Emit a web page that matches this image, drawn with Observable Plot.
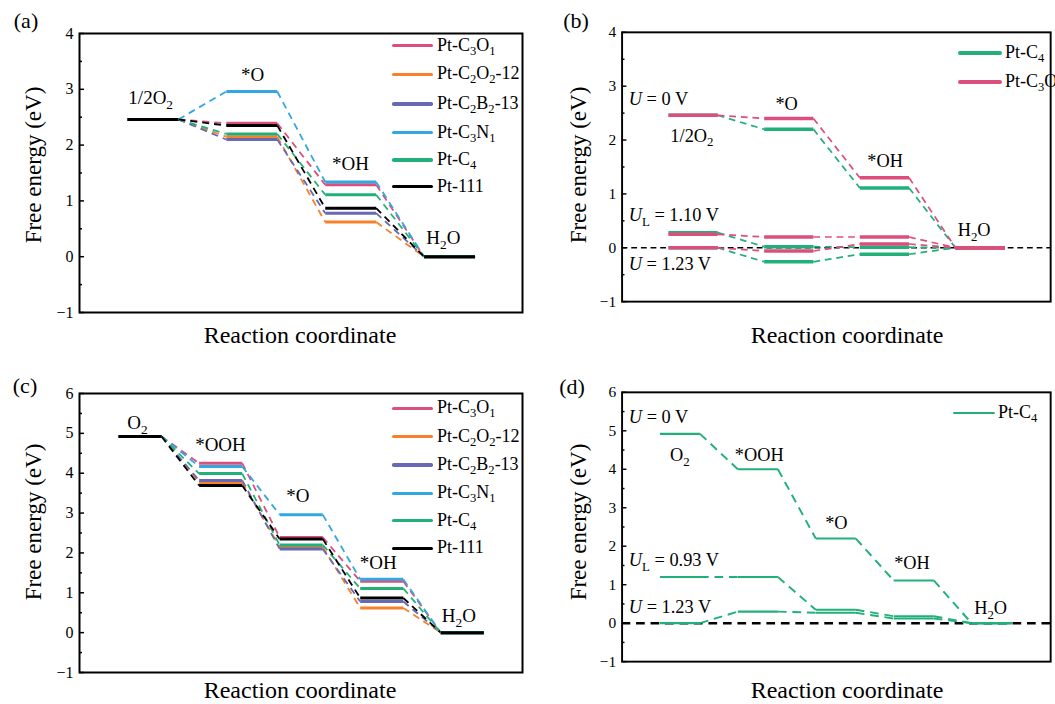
<!DOCTYPE html>
<html><head><meta charset="utf-8">
<script src="https://cdn.jsdelivr.net/npm/d3@7"></script>
<script src="https://cdn.jsdelivr.net/npm/@observablehq/plot@0.6"></script>
<style>
body{margin:0;background:#fff;}
#root{position:relative;width:1055px;height:704px;overflow:hidden;font-family:"Liberation Serif","Times New Roman",serif;color:#000;background:#fff;}
.abs{position:absolute;white-space:nowrap;line-height:1;}
.panel{position:absolute;}
.sub{font-size:70%;position:relative;top:4px;}
</style></head><body><div id="root"></div>
<script>
// ---------- data ----------
const seriesNames = ["Pt-C<sub>3</sub>O<sub>1</sub>", "Pt-C<sub>2</sub>O<sub>2</sub>-12", "Pt-C<sub>2</sub>B<sub>2</sub>-13", "Pt-C<sub>3</sub>N<sub>1</sub>", "Pt-C<sub>4</sub>", "Pt-111"];
const seriesColors = ["#db4f7c", "#f7812a", "#6669b4", "#33a7e0", "#22b07a", "#000000"];

// (a) 2e-path steps: 1/2O2, *O, *OH, H2O
const stepsA = ["1/2O<sub>2</sub>", "*O", "*OH", "H<sub>2</sub>O"];
const a_C3O1 = [2.46, 2.39, 1.29, 0];
const a_C2O2 = [2.46, 2.15, 0.62, 0];
const a_C2B2 = [2.46, 2.10, 0.78, 0];
const a_C3N1 = [2.46, 2.96, 1.34, 0];
const a_C4   = [2.46, 2.20, 1.11, 0];
const a_Pt111 = [2.46, 2.35, 0.87, 0];

// (b) Pt-C4 and Pt-C3O1 at U = 0, U_L, 1.23 V
const b_C4_U0   = [2.46, 2.20, 1.11, 0];
const b_C4_UL   = [0.28, 0.02, 0.01, 0];
const b_C4_U123 = [0, -0.26, -0.12, 0];
const b_C3O1_U0   = [2.46, 2.40, 1.30, 0];
const b_C3O1_UL   = [0.25, 0.20, 0.20, 0];
const b_C3O1_U123 = [0, -0.06, 0.07, 0];

// (c) 4e-path steps: O2, *OOH, *O, *OH, H2O
const stepsC = ["O<sub>2</sub>", "*OOH", "*O", "*OH", "H<sub>2</sub>O"];
const c_C3O1 = [4.92, 4.25, 2.39, 1.29, 0];
const c_C2O2 = [4.92, 3.77, 2.15, 0.62, 0];
const c_C2B2 = [4.92, 3.82, 2.10, 0.78, 0];
const c_C3N1 = [4.92, 4.17, 2.96, 1.34, 0];
const c_C4   = [4.92, 3.99, 2.20, 1.11, 0];
const c_Pt111 = [4.92, 3.69, 2.35, 0.87, 0];

// (d) Pt-C4 at U = 0, U_L = 0.93, 1.23 V
const d_C4_U0   = [4.92, 4.00, 2.20, 1.11, 0];
const d_C4_UL   = [1.20, 1.20, 0.35, 0.18, 0];
const d_C4_U123 = [0, 0.30, 0.27, 0.12, 0];

// annotation texts
const potB = ["<i>U</i> = 0 V", "<i>U</i><sub>L</sub> = 1.10 V", "<i>U</i> = 1.23 V"];
const potD = ["<i>U</i> = 0 V", "<i>U</i><sub>L</sub> = 0.93 V", "<i>U</i> = 1.23 V"];

// ---------- helpers ----------
const root = document.getElementById("root");
const NS = "http://www.w3.org/2000/svg";

function build(seriesList, start, end) {
  const levels = [], conns = [];
  for (const [vals, color] of seriesList) {
    vals.forEach((v, i) => levels.push({x1: i + start, x2: i + end, y: v, color}));
    for (let i = 1; i < vals.length; i++)
      conns.push({x1: i - 1 + end, x2: i + start, y1: vals[i - 1], y2: vals[i], color});
  }
  return {levels, conns};
}

function rich(el) {
  const s = el.textContent;
  if (!s.includes("<")) return;
  el.textContent = "";
  el.setAttribute("style", (el.getAttribute("style") || "") + ";white-space:pre");
  const re = /<(sub|i)>(.*?)<\/(?:sub|i)>|([^<]+)/g;
  let m, off = 0;
  while ((m = re.exec(s))) {
    const t = document.createElementNS(NS, "tspan");
    let target = 0;
    if (m[1] === "sub") { t.textContent = m[2]; t.setAttribute("font-size", "70%"); target = 5; }
    else if (m[1] === "i") { t.textContent = m[2]; t.setAttribute("font-style", "italic"); }
    else t.textContent = m[3];
    if (target !== off) { t.setAttribute("dy", target - off); off = target; }
    el.appendChild(t);
  }
}

function fmt(d) { return d < 0 ? "\u2212" + (-d) : String(d); }

function panel(o) {
  const {levels, conns} = build(o.series, o.start, o.end);
  const marks = [
    Plot.axisY(o.yMajor, {tickSize: 0, tickPadding: 6, fontSize: 16, label: null, tickFormat: fmt}),
    Plot.axisY(o.yMajor, {tickSize: 5, dx: 5, fill: "none", label: null, strokeWidth: 1.5}),
    Plot.axisY(o.yMinor, {tickSize: 3, dx: 3, fill: "none", label: null, strokeWidth: 1.5}),
  ];
  if (o.zero) marks.push(Plot.ruleY([0], {stroke: "black", strokeWidth: o.zero.w, strokeDasharray: o.zero.dash}));
  marks.push(
    Plot.link(conns, {x1: "x1", y1: "y1", x2: "x2", y2: "y2", stroke: "color", strokeWidth: o.connW, strokeDasharray: o.dash}),
    Plot.link(levels, {x1: "x1", x2: "x2", y1: "y", y2: "y", stroke: "color", strokeWidth: o.levelW, strokeLinecap: "butt"}),
    Plot.text(o.labels, {x: "x", y: "y", text: "t", textAnchor: "middle", fontSize: 19}),
    Plot.text(o.potLabels || [], {x: "x", y: "y", text: "t", textAnchor: "start", fontSize: 19}),
    Plot.frame({stroke: "black", strokeWidth: 2})
  );
  const svg = Plot.plot({
    width: o.width, height: o.height,
    marginLeft: o.mL, marginRight: o.mR, marginTop: o.mT, marginBottom: o.mB,
    x: {domain: o.xDomain, axis: null},
    y: {domain: o.yDomain, axis: null},
    color: {type: "identity"},
    style: {fontFamily: '"Liberation Serif", "Times New Roman", serif', background: "transparent", overflow: "visible"},
    marks
  });
  svg.querySelectorAll("text").forEach(rich);
  const div = document.createElement("div");
  div.className = "panel";
  div.style.left = o.left + "px"; div.style.top = o.top + "px";
  div.appendChild(svg);
  root.appendChild(div);
}

function html(x, y, content, size, extra = "") {
  const d = document.createElement("div");
  d.className = "abs";
  d.style.left = x + "px"; d.style.top = y + "px"; d.style.fontSize = size + "px";
  d.style.transform = "translate(-50%,-50%) " + extra;
  d.innerHTML = content.replace(/<sub>/g, '<span class="sub">').replace(/<\/sub>/g, "</span>");
  root.appendChild(d);
}

function legend(x1, x2, xt, ys, names, colors, w) {
  names.forEach((n, i) => {
    const l = document.createElement("div");
    l.className = "abs";
    l.style.left = x1 + "px"; l.style.top = (ys[i] - w / 2) + "px";
    l.style.width = (x2 - x1) + "px"; l.style.height = w + "px";
    l.style.background = colors[i]; l.style.borderRadius = (w / 2) + "px";
    root.appendChild(l);
    const t = document.createElement("div");
    t.className = "abs";
    t.style.left = xt + "px"; t.style.top = ys[i] + "px"; t.style.fontSize = "18px";
    t.style.transform = "translateY(-55%)";
    t.innerHTML = n.replace(/<sub>/g, '<span class="sub">').replace(/<\/sub>/g, "</span>");
    root.appendChild(t);
  });
}

// ---------- panels ----------
const yA = [-1, 0, 1, 2, 3, 4], yAm = [-0.5, 0.5, 1.5, 2.5, 3.5];
const yC = [-1, 0, 1, 2, 3, 4, 5, 6], yCm = [-0.5, 0.5, 1.5, 2.5, 3.5, 4.5, 5.5];

panel({
  left: 0, top: 0, width: 527, height: 352, mL: 79, mR: 5, mT: 33, mB: 40,
  xDomain: [0, 4.48], yDomain: [-1, 4], yMajor: yA, yMinor: yAm, start: 0.485, end: 1.0,
  series: [a_C3O1, a_C2O2, a_C2B2, a_C3N1, a_C4, a_Pt111].map((v, i) => [v, seriesColors[i]]),
  levelW: 3, connW: 1.8, dash: "7,5",
  labels: [
    {x: 0.72, y: 2.84, t: stepsA[0]}, {x: 1.75, y: 3.25, t: stepsA[1]},
    {x: 2.74, y: 1.67, t: stepsA[2]}, {x: 3.68, y: 0.33, t: stepsA[3]}]
});

panel({
  left: 527, top: 0, width: 547, height: 352, mL: 98, mR: 5, mT: 33, mB: 40,
  xDomain: [0, 4.48], yDomain: [-1, 4], yMajor: yA, yMinor: yAm, start: 0.485, end: 1.0,
  series: [[b_C4_U0, seriesColors[4]], [b_C4_UL, seriesColors[4]], [b_C4_U123, seriesColors[4]],
           [b_C3O1_U0, seriesColors[0]], [b_C3O1_UL, seriesColors[0]], [b_C3O1_U123, seriesColors[0]]],
  levelW: 3.5, connW: 1.8, dash: "7,5", zero: {w: 1.5, dash: "6,4"},
  labels: [
    {x: 0.73, y: 2.08, t: stepsA[0]}, {x: 1.72, y: 2.67, t: stepsA[1]},
    {x: 2.75, y: 1.60, t: stepsA[2]}, {x: 3.68, y: 0.33, t: stepsA[3]}],
  potLabels: [{x: 0.07, y: 2.76, t: potB[0]}, {x: 0.07, y: 0.6, t: potB[1]}, {x: 0.07, y: -0.30, t: potB[2]}]
});

panel({
  left: 0, top: 360, width: 527, height: 344, mL: 79, mR: 5, mT: 33, mB: 32,
  xDomain: [0, 5.5], yDomain: [-1, 6], yMajor: yC, yMinor: yCm, start: 0.485, end: 1.02,
  series: [c_C3O1, c_C2O2, c_C2B2, c_C3N1, c_C4, c_Pt111].map((v, i) => [v, seriesColors[i]]),
  levelW: 3, connW: 1.8, dash: "7,5",
  labels: [
    {x: 0.72, y: 5.27, t: stepsC[0]}, {x: 1.75, y: 4.70, t: stepsC[1]}, {x: 2.71, y: 3.42, t: stepsC[2]},
    {x: 3.71, y: 1.74, t: stepsC[3]}, {x: 4.71, y: 0.43, t: stepsC[4]}]
});

panel({
  left: 527, top: 360, width: 547, height: 344, mL: 98, mR: 5, mT: 33, mB: 32,
  xDomain: [0, 5.5], yDomain: [-1, 6], yMajor: yC, yMinor: yCm, start: 0.485, end: 1.0,
  series: [[d_C4_U0, seriesColors[4]], [d_C4_UL, seriesColors[4]], [d_C4_U123, seriesColors[4]]],
  levelW: 2.2, connW: 2, dash: "9,6", zero: {w: 2.5, dash: "9,6"},
  labels: [
    {x: 0.74, y: 4.37, t: stepsC[0]}, {x: 1.76, y: 4.37, t: stepsC[1]}, {x: 2.75, y: 2.61, t: stepsC[2]},
    {x: 3.72, y: 1.56, t: stepsC[3]}, {x: 4.73, y: 0.38, t: stepsC[4]}],
  potLabels: [{x: 0.087, y: 5.35, t: potD[0]}, {x: 0.087, y: 1.63, t: potD[1]}, {x: 0.087, y: 0.43, t: potD[2]}]
});

// ---------- titles, letters, legends ----------
html(26, 21, "(a)", 22); html(576, 21, "(b)", 22);
html(25, 386, "(c)", 22); html(572, 387, "(d)", 22);
html(300, 335, "Reaction coordinate", 24); html(847, 335, "Reaction coordinate", 24);
html(300, 690, "Reaction coordinate", 24); html(847, 690, "Reaction coordinate", 24);
html(33, 165, "Free energy (eV)", 23, "rotate(-90deg)"); html(578, 165, "Free energy (eV)", 23, "rotate(-90deg)");
html(33, 522, "Free energy (eV)", 23, "rotate(-90deg)"); html(578, 522, "Free energy (eV)", 23, "rotate(-90deg)");

legend(392, 433, 437, [45.7, 74.3, 104, 132.7, 160, 186.7], seriesNames, seriesColors, 3.5);
legend(958, 1002, 1005, [53.3, 81.7], [seriesNames[4], seriesNames[0]], [seriesColors[4], seriesColors[0]], 4);
legend(392, 433, 437, [408.3, 436.7, 465, 493.3, 520.7, 548.3], seriesNames, seriesColors, 3.5);
legend(953, 995, 998, [413], [seriesNames[4]], [seriesColors[4]], 2);
</script></body></html>
